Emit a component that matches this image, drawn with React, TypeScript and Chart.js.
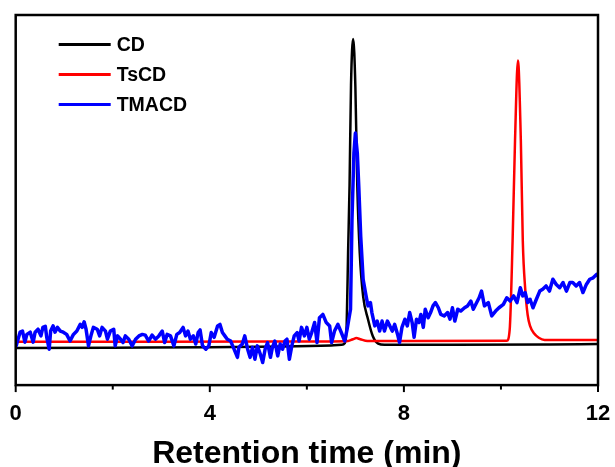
import React, { useEffect, useRef } from "react";
import { Chart, registerables } from "chart.js";

Chart.register(...registerables);

// ---- Data (retention time in min, detector signal in arbitrary units) ----
const cdTime = [0, 2, 4, 5.5, 6.5, 6.72, 6.78, 6.82, 6.85, 6.88, 6.91, 6.955, 7.0, 7.04, 7.09, 7.16, 7.26, 7.36, 7.47, 7.6, 9, 11, 12];
const cdSignal = [10.0, 10.1, 10.2, 10.4, 10.7, 10.9, 11.3, 16, 36, 54, 81, 93.5, 80.6, 53.6, 35.8, 24, 17.8, 13.2, 11.2, 10.9, 10.9, 11.0, 11.1];

const tscdTime = [0, 3, 6.5, 6.85, 6.95, 7.02, 7.1, 7.25, 8, 10.12, 10.18, 10.24, 10.29, 10.35, 10.41, 10.45, 10.5, 10.55, 10.6, 10.68, 10.78, 10.9, 12];
const tscdSignal = [11.7, 11.7, 11.8, 11.9, 12.4, 12.7, 12.4, 11.9, 11.9, 12.0, 15, 39, 66, 87.7, 66, 39, 26, 19, 16, 14, 12.8, 12.2, 12.2];

const tmacdTime = [
  0.01, 0.09, 0.14, 0.19, 0.23, 0.30, 0.36, 0.40, 0.46, 0.52, 0.56, 0.61, 0.64, 0.69, 0.72, 0.77, 0.81, 0.86, 0.92, 0.98,
  1.05, 1.12, 1.19, 1.26, 1.33, 1.37, 1.41, 1.45, 1.50, 1.55, 1.60, 1.68, 1.73, 1.78, 1.85, 1.89, 1.95, 2.02, 2.05, 2.10,
  2.16, 2.21, 2.26, 2.33, 2.40, 2.47, 2.54, 2.61, 2.67, 2.74, 2.81, 2.88, 2.95, 3.02, 3.07, 3.12, 3.19, 3.26, 3.32, 3.38,
  3.45, 3.50, 3.55, 3.60, 3.66, 3.71, 3.76, 3.80, 3.85, 3.92, 3.98, 4.03, 4.09, 4.16, 4.21, 4.26, 4.31, 4.36, 4.43, 4.50,
  4.57, 4.60, 4.67, 4.72, 4.78, 4.83, 4.88, 4.93, 4.98, 5.04, 5.09, 5.14, 5.19, 5.25, 5.29, 5.34, 5.40, 5.45, 5.50, 5.55,
  5.59, 5.64, 5.69, 5.74, 5.80, 5.84, 5.89, 5.95, 6.00, 6.05, 6.10, 6.16, 6.21, 6.26, 6.33, 6.40, 6.47, 6.51, 6.57, 6.64,
  6.71, 6.78, 6.83, 6.90, 6.93, 6.97, 7.00, 7.04, 7.07, 7.11, 7.16, 7.22, 7.26, 7.31, 7.34, 7.40, 7.45, 7.50, 7.55, 7.60,
  7.66, 7.71, 7.76, 7.81, 7.87, 7.91, 7.96, 8.02, 8.07, 8.12, 8.17, 8.21, 8.26, 8.31, 8.35, 8.40, 8.44, 8.50, 8.55, 8.60,
  8.65, 8.71, 8.76, 8.83, 8.90, 8.95, 9.00, 9.05, 9.11, 9.17, 9.25, 9.31, 9.38, 9.43, 9.50, 9.55, 9.60, 9.66, 9.74, 9.81,
  9.89, 9.96, 10.05, 10.12, 10.19, 10.26, 10.33, 10.40, 10.45, 10.50, 10.55, 10.60, 10.66, 10.73, 10.80, 10.86, 10.93, 11.00, 11.07, 11.14,
  11.21, 11.28, 11.35, 11.42, 11.48, 11.55, 11.62, 11.69, 11.76, 11.83, 11.90, 11.97, 12.0
];
const tmacdSignal = [
  10.6, 14.3, 14.6, 11.6, 13.7, 14.3, 11.6, 14.3, 15.1, 13.3, 15.6, 15.9, 12.9, 9.7, 14.6, 16.0, 14.3, 15.6, 14.6, 14.3,
  13.7, 11.9, 13.7, 14.6, 16.4, 15.6, 17.1, 15.1, 10.6, 13.3, 15.6, 15.1, 13.3, 15.6, 14.6, 12.4, 14.6, 15.1, 10.6, 13.3,
  12.4, 11.5, 13.3, 12.4, 10.6, 12.4, 13.3, 13.7, 13.5, 11.9, 13.5, 12.4, 13.3, 14.6, 11.5, 13.7, 13.3, 10.6, 13.7, 14.2,
  15.6, 13.3, 14.6, 12.4, 13.3, 11.1, 14.2, 14.9, 10.6, 9.7, 10.6, 14.2, 12.9, 16.0, 16.4, 14.2, 13.3, 12.4, 11.9, 9.7,
  7.5, 10.2, 11.1, 13.3, 9.7, 7.5, 10.2, 7.0, 10.6, 8.4, 6.1, 9.7, 11.5, 7.5, 10.2, 11.9, 7.9, 11.1, 9.7, 11.9,
  12.4, 7.0, 10.6, 13.3, 14.2, 11.9, 15.6, 13.3, 15.6, 12.4, 14.2, 16.9, 11.5, 18.2, 19.1, 16.9, 16.0, 11.5, 14.6, 16.4,
  14.2, 11.9, 15.1, 20.5, 44.7, 62.7, 68.1, 62.7, 53.7, 40.2, 28.6, 24.1, 21.4, 22.3, 19.6, 16.0, 17.3, 14.6, 17.3, 14.6,
  17.3, 16.0, 14.6, 16.4, 13.7, 11.5, 15.6, 17.8, 16.0, 19.6, 16.9, 12.9, 17.8, 16.9, 19.1, 15.6, 20.5, 18.2, 19.6, 21.4,
  22.3, 20.9, 19.1, 18.7, 19.6, 17.8, 20.9, 17.3, 20.5, 20.0, 20.9, 21.4, 22.7, 20.5, 22.3, 23.6, 25.4, 21.4, 22.3, 18.7,
  20.0, 20.9, 21.8, 23.6, 22.7, 24.1, 22.3, 26.3, 24.1, 25.0, 22.3, 23.2, 20.9, 23.2, 25.4, 25.9, 26.8, 25.4, 28.6, 27.2,
  26.3, 27.7, 25.4, 27.7, 27.7, 26.8, 27.7, 25.0, 27.2, 28.6, 29.0, 29.9, 29.5
];

const seriesLabels = ["CD", "TsCD", "TMACD"];
const seriesColors = ["#000000", "#ff0000", "#0000ff"];
const xMajorTicks = [0, 4, 8, 12];
const xMin = 0;
const xMax = 12;
const xStep = 2;
const axisTitle = "Retention time (min)";

const FONT = "'Liberation Sans', Arial, Helvetica, sans-serif";

const toPoints = (t: number[], v: number[]) => t.map((x, i) => ({ x, y: v[i] }));

const decorPlugin = {
  id: "decor",
  afterDatasetsDraw(chart: any) {
    const { ctx, chartArea: a, scales } = chart;
    ctx.save();
    // frame
    ctx.strokeStyle = "#000";
    ctx.lineWidth = 2.5;
    ctx.strokeRect(a.left, a.top, a.right - a.left, a.bottom - a.top);
    // x tick marks
    const xs = scales.x;
    ctx.lineWidth = 2;
    xs.ticks.forEach((t: any) => {
      const px = xs.getPixelForValue(t.value);
      const major = xMajorTicks.includes(t.value);
      ctx.beginPath();
      ctx.moveTo(px, a.bottom);
      ctx.lineTo(px, a.bottom + (major ? 7 : 4.5));
      ctx.stroke();
    });
    // legend
    const lx0 = a.left + 43;
    const lx1 = a.left + 95;
    const ly0 = a.top + 29.5;
    const gap = 30;
    ctx.font = `bold 19.5px ${FONT}`;
    ctx.textBaseline = "middle";
    ctx.textAlign = "left";
    chart.data.datasets.forEach((ds: any, i: number) => {
      const y = ly0 + i * gap;
      ctx.strokeStyle = ds.borderColor;
      ctx.lineWidth = 3;
      ctx.beginPath();
      ctx.moveTo(lx0, y);
      ctx.lineTo(lx1, y);
      ctx.stroke();
      ctx.fillStyle = "#000";
      ctx.fillText(ds.label, lx1 + 6, y + 1);
    });
    ctx.restore();
  },
};

export default function App() {
  const canvasRef = useRef<HTMLCanvasElement | null>(null);

  useEffect(() => {
    if (!canvasRef.current) return;
    const chart = new Chart(canvasRef.current, {
      type: "line",
      data: {
        datasets: [
          {
            label: seriesLabels[0],
            data: toPoints(cdTime, cdSignal),
            borderColor: seriesColors[0],
            borderWidth: 2.5,
            pointRadius: 0,
            cubicInterpolationMode: "monotone",
            order: 2,
          },
          {
            label: seriesLabels[1],
            data: toPoints(tscdTime, tscdSignal),
            borderColor: seriesColors[1],
            borderWidth: 2.5,
            pointRadius: 0,
            cubicInterpolationMode: "monotone",
            order: 1,
          },
          {
            label: seriesLabels[2],
            data: toPoints(tmacdTime, tmacdSignal),
            borderColor: seriesColors[2],
            borderWidth: 3.5,
            borderJoinStyle: "round",
            borderCapStyle: "round",
            pointRadius: 0,
            tension: 0,
            order: 0,
          },
        ],
      },
      options: {
        responsive: false,
        animation: false,
        events: [],
        layout: { padding: { left: 15.7, right: 17, top: 15, bottom: 0 } },
        plugins: {
          legend: { display: false },
          tooltip: { enabled: false },
        },
        scales: {
          x: {
            type: "linear",
            min: xMin,
            max: xMax,
            border: { display: false },
            grid: { display: false, drawTicks: true, tickLength: 6 },
            afterFit: (scale: any) => {
              scale.paddingLeft = 0;
              scale.paddingRight = 0;
            },
            ticks: {
              stepSize: xStep,
              padding: 9.5,
              color: "#000",
              font: { family: FONT, weight: "bold", size: 22, lineHeight: 1.2 },
              maxRotation: 0,
              autoSkip: false,
              callback: (v: any) => (xMajorTicks.includes(Number(v)) ? String(v) : ""),
            },
            title: {
              display: true,
              text: axisTitle,
              color: "#000",
              font: { family: FONT, weight: "bold", size: 32, lineHeight: 1 },
              padding: { top: 1.5, bottom: -3 },
            },
          },
          y: {
            display: false,
            min: 0,
            max: 100,
          },
        },
      },
      plugins: [decorPlugin],
    } as any);
    return () => chart.destroy();
  }, []);

  return (
    <div style={{ position: "fixed", left: 0, top: 0, width: 615, height: 467, background: "#fff" }}>
      <canvas ref={canvasRef} width={615} height={467} style={{ display: "block" }} />
    </div>
  );
}
